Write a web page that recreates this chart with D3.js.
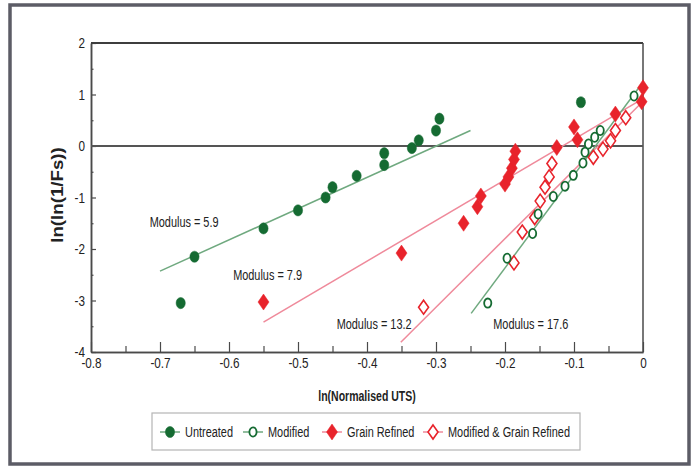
<!DOCTYPE html>
<html>
<head>
	<meta charset="utf-8">
	<style>
		html, body { margin: 0; padding: 0; background: #fff; }
		svg { display: block; font-family: "Liberation Sans", Arial, sans-serif; }
	</style>
</head>
<body>
<svg class="chart" width="696" height="467"></svg>
<script src="https://d3js.org/d3.v7.min.js"></script>
<script>

// series: [ln(normalised UTS), ln(ln(1/Fs))]
var untreated = [
	[-0.67, -3.05], [-0.65, -2.15], [-0.55, -1.6], [-0.5, -1.25], [-0.46, -1.0],
	[-0.45, -0.8], [-0.415, -0.58], [-0.375, -0.37], [-0.375, -0.14], [-0.335, -0.04],
	[-0.325, 0.11], [-0.3, 0.3], [-0.295, 0.53], [-0.09, 0.85]
]
var modified = [
	[-0.225, -3.05], [-0.197, -2.18], [-0.16, -1.7], [-0.152, -1.32], [-0.13, -0.98],
	[-0.113, -0.78], [-0.101, -0.57], [-0.087, -0.33], [-0.084, -0.12], [-0.079, 0.04],
	[-0.07, 0.17], [-0.062, 0.3], [-0.013, 0.97]
]
var grainRefined = [
	[-0.55, -3.03], [-0.35, -2.08], [-0.26, -1.5], [-0.24, -1.18], [-0.235, -0.97],
	[-0.2, -0.74], [-0.195, -0.6], [-0.19, -0.43], [-0.187, -0.26], [-0.185, -0.1],
	[-0.125, -0.03], [-0.1, 0.37], [-0.095, 0.12], [-0.04, 0.62], [-0.002, 0.86], [0, 1.13]
]
var modGrain = [
	[-0.318, -3.13], [-0.187, -2.27], [-0.175, -1.67], [-0.157, -1.39], [-0.149, -1.07],
	[-0.142, -0.8], [-0.136, -0.6], [-0.132, -0.34], [-0.072, -0.22], [-0.058, -0.06],
	[-0.047, 0.1], [-0.04, 0.3], [-0.025, 0.55]
]

// fitted lines, end points
var fits = [
	{ name: 'Untreated', pts: [[-0.7, -2.43], [-0.25, 0.3]] },
	{ name: 'Grain Refined', pts: [[-0.55, -3.42], [0, 0.92]] },
	{ name: 'Modified & Grain Refined', pts: [[-0.351, -3.81], [-0.005, 0.8]] },
	{ name: 'Modified', pts: [[-0.249, -3.25], [-0.005, 1.15]] }
]

var moduli = [
	{ text: 'Modulus = 5.9', at: [-0.715, -1.57] },
	{ text: 'Modulus = 7.9', at: [-0.594, -2.6] },
	{ text: 'Modulus = 13.2', at: [-0.444, -3.55] },
	{ text: 'Modulus = 17.6', at: [-0.217, -3.55] }
]

var xTicks = [-0.8, -0.7, -0.6, -0.5, -0.4, -0.3, -0.2, -0.1, 0]
var xMinor = [-0.75, -0.65, -0.55, -0.45, -0.35, -0.25, -0.15, -0.05]
var yTicks = [-4, -3, -2, -1, 0, 1, 2]
var yMinor = [-3.5, -2.5, -1.5, -0.5, 0.5, 1.5]

var seriesNames = ['Untreated', 'Modified', 'Grain Refined', 'Modified & Grain Refined']


var cfg = {
	left: 91, right: 643, top: 43, bottom: 352,
	green: '#156b32', greenLine: '#6fa97f',
	red: '#e8232b', pinkLine: '#ef8a9b',
	axis: '#4a4a4a',
	narrow: 0.78   // the original uses a condensed face
}

var svg = d3.select('.chart')

// outer frame
svg.append('rect')
	.attr('x', 10).attr('y', 5)
	.attr('width', 679).attr('height', 459)
	.attr('fill', 'white')
	.attr('stroke', '#5c5c66')
	.attr('stroke-width', 3.5)

var x = d3.scaleLinear().domain([-0.8, 0]).range([cfg.left, cfg.right])
var y = d3.scaleLinear().domain([-4, 2]).range([cfg.bottom, cfg.top])

// axes
svg.append('g')
	.attr('transform', 'translate(0,' + cfg.bottom + ')')
	.call(d3.axisBottom(x).tickValues(xTicks).tickSizeInner(-10).tickSizeOuter(0).tickPadding(5)
		.tickFormat(function(d) { return d === 0 ? '0' : d.toFixed(1) }))
svg.append('g')
	.attr('transform', 'translate(0,' + cfg.bottom + ')')
	.call(d3.axisBottom(x).tickValues(xMinor).tickSizeInner(-6).tickSizeOuter(0).tickFormat(''))

svg.append('g')
	.attr('transform', 'translate(' + cfg.left + ',0)')
	.call(d3.axisLeft(y).tickValues(yTicks).tickSizeInner(-5).tickSizeOuter(0).tickPadding(6)
		.tickFormat(function(d) { return String(d) }))
svg.append('g')
	.attr('transform', 'translate(' + cfg.left + ',0)')
	.call(d3.axisLeft(y).tickValues(yMinor).tickSizeInner(-2.5).tickSizeOuter(0).tickFormat(''))

svg.selectAll('.domain').attr('stroke', cfg.axis).attr('stroke-width', 1.5)
svg.selectAll('.tick line').attr('stroke', cfg.axis).attr('stroke-width', 1.2)
svg.selectAll('.tick text').attr('font-size', 15).attr('fill', '#222')
	.attr('font-family', '"Liberation Sans", Arial, sans-serif')

// top and right border, zero line
svg.append('line')
	.attr('x1', cfg.left).attr('x2', cfg.right)
	.attr('y1', y(2)).attr('y2', y(2))
	.attr('stroke', '#3d3d3d').attr('stroke-width', 2)
svg.append('line')
	.attr('x1', cfg.right).attr('x2', cfg.right)
	.attr('y1', y(2)).attr('y2', y(-4))
	.attr('stroke', cfg.axis).attr('stroke-width', 1.5)
svg.append('line')
	.attr('x1', cfg.left).attr('x2', cfg.right)
	.attr('y1', y(0)).attr('y2', y(0))
	.attr('stroke', '#555').attr('stroke-width', 2)

// axis titles
svg.append('text')
	.attr('x', 367).attr('y', 401)
	.attr('text-anchor', 'middle')
	.attr('font-size', 14).attr('font-weight', 'bold').attr('fill', '#222')
	.attr('data-narrow', 0.75)
	.text('ln(Normalised UTS)')
svg.append('text')
	.attr('transform', 'translate(63,195) rotate(-90)')
	.attr('text-anchor', 'middle')
	.attr('font-size', 17).attr('font-weight', 'bold').attr('fill', '#222')
	.attr('data-narrow', 1.1)
	.text('ln(ln(1/Fs))')

// fitted lines
var line = d3.line().x(function(d) { return x(d[0]) }).y(function(d) { return y(d[1]) })
svg.selectAll('.fit')
	.data(fits)
	.enter().append('path')
		.attr('class', 'fit')
		.attr('fill', 'none')
		.attr('stroke', function(f) { return f.name.indexOf('Grain') >= 0 ? cfg.pinkLine : cfg.greenLine })
		.attr('stroke-width', 1.5)
		.attr('d', function(f) { return line(f.pts) })

// marker drawing helpers
function circleMark(sel, hollow) {
	sel.append('ellipse')
		.attr('rx', hollow ? 3.6 : 4.6)
		.attr('ry', hollow ? 4.6 : 5.6)
		.attr('fill', hollow ? 'white' : cfg.green)
		.attr('stroke', cfg.green)
		.attr('stroke-width', hollow ? 1.8 : 0.5)
}
function diamondMark(sel, hollow) {
	var w = hollow ? 5 : 5.5, h = hollow ? 7 : 8
	sel.append('path')
		.attr('d', 'M0,' + (-h) + 'L' + w + ',0L0,' + h + 'L' + (-w) + ',0Z')
		.attr('fill', hollow ? 'white' : cfg.red)
		.attr('stroke', cfg.red)
		.attr('stroke-width', hollow ? 1.6 : 0.5)
}

function plot(data, draw, hollow) {
	var g = svg.append('g').selectAll('g')
		.data(data)
		.enter().append('g')
			.attr('transform', function(d) { return 'translate(' + x(d[0]) + ',' + y(d[1]) + ')' })
	draw(g, hollow)
}

plot(untreated, circleMark, false)
plot(modGrain, diamondMark, true)
plot(modified, circleMark, true)
plot(grainRefined, diamondMark, false)

// modulus labels
svg.selectAll('.modulus')
	.data(moduli)
	.enter().append('text')
		.attr('class', 'modulus')
		.attr('x', function(m) { return x(m.at[0]) })
		.attr('y', function(m) { return y(m.at[1]) })
		.attr('font-size', 14).attr('fill', '#222')
		.text(function(m) { return m.text })

// legend
var legend = svg.append('g')
legend.append('rect')
	.attr('x', 152).attr('y', 413)
	.attr('width', 428).attr('height', 37)
	.attr('fill', 'white')
	.attr('stroke', '#b5b5b5').attr('stroke-width', 1.2)

var legendX = [170, 253, 332, 433]
seriesNames.forEach(function(name, i) {
	var g = legend.append('g').attr('transform', 'translate(' + legendX[i] + ',432)')
	var isGrain = name.indexOf('Grain') >= 0
	g.append('line')
		.attr('x1', -10).attr('x2', 10)
		.attr('stroke', isGrain ? cfg.pinkLine : cfg.greenLine)
		.attr('stroke-width', 1.5)
	if (isGrain) diamondMark(g, name !== 'Grain Refined')
	else circleMark(g, name === 'Modified')
	g.append('text')
		.attr('x', 15).attr('y', 5)
		.attr('font-size', 14).attr('fill', '#222')
		.text(name)
})

// squeeze every label to look like the condensed face of the original
svg.selectAll('text').each(function() {
	var len = this.getComputedTextLength()
	var k = +(this.getAttribute('data-narrow') || cfg.narrow)
	if (len > 0 && k !== 1) {
		d3.select(this)
			.attr('textLength', len * k)
			.attr('lengthAdjust', 'spacingAndGlyphs')
	}
})

</script>
</body>
</html>
